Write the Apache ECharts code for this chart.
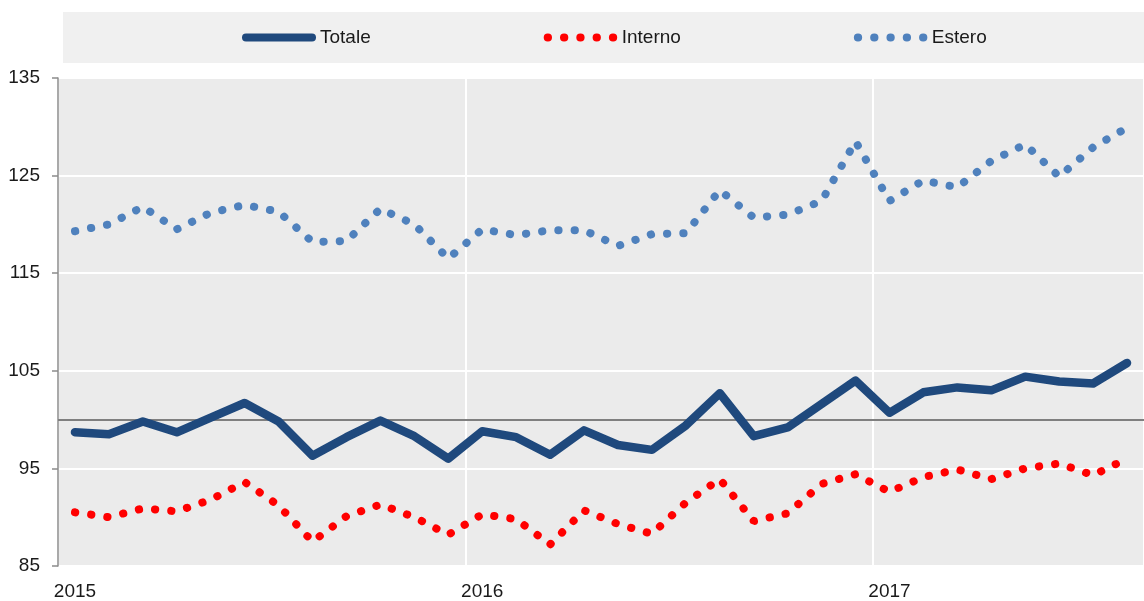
<!DOCTYPE html>
<html>
<head>
<meta charset="utf-8">
<script src="https://cdn.jsdelivr.net/npm/echarts@6/dist/echarts.min.js"></script>
<style>
  html, body { margin: 0; padding: 0; background: #fff; }
  #chartmain { width: 1144px; height: 601px; }
</style>
</head>
<body>
<div id="chartmain"></div>
<script>
// mesi gen 2015 - ago 2017
var mesi = [
    '2015-01', '2015-02', '2015-03', '2015-04', '2015-05', '2015-06', '2015-07', '2015-08', '2015-09', '2015-10', '2015-11', '2015-12',
    '2016-01', '2016-02', '2016-03', '2016-04', '2016-05', '2016-06', '2016-07', '2016-08', '2016-09', '2016-10', '2016-11', '2016-12',
    '2017-01', '2017-02', '2017-03', '2017-04', '2017-05', '2017-06', '2017-07', '2017-08'
];
var totale = [98.7, 98.5, 99.8, 98.7, 100.2, 101.7, 99.8, 96.3, 98.2, 99.9, 98.3, 96.0,
    98.8, 98.2, 96.4, 98.9, 97.4, 96.9, 99.4, 102.7, 98.3, 99.2, 101.6, 104.0,
    100.7, 102.8, 103.3, 103.0, 104.4, 103.9, 103.7, 105.8];
var interno = [90.5, 90.0, 90.9, 90.6, 91.8, 93.6, 91.2, 87.5, 90.1, 91.3, 90.0, 88.2,
    90.3, 89.8, 87.2, 90.7, 89.3, 88.3, 91.5, 93.9, 89.6, 90.4, 93.4, 94.4,
    92.6, 94.1, 94.9, 93.9, 95.0, 95.5, 94.3, 96.0];
var estero = [119.3, 120.0, 121.8, 119.5, 121.2, 122.0, 121.3, 118.2, 118.3, 121.6, 120.0, 116.5,
    119.5, 118.9, 119.4, 119.4, 117.8, 119.0, 119.1, 123.5, 120.7, 121.0, 122.4, 128.5,
    122.4, 124.5, 123.8, 126.5, 128.2, 124.9, 127.9, 129.9];
var yTicks = [85, 95, 105, 115, 125, 135];

var font = '"Liberation Sans Narrow", "Arial Narrow", "Liberation Sans", sans-serif';
var dots = [0.3, 16];

var option = {
    animation: false,
    textStyle: { fontFamily: font, color: '#1a1a1a' },
    graphic: [{
        type: 'rect',
        shape: { x: 63, y: 12, width: 1081, height: 51 },
        style: { fill: '#f0f0f0' },
        z: -1
    }],
    legend: {
        left: 237,
        top: 23,
        itemWidth: 66,
        itemHeight: 20,
        itemGap: 173,
        itemStyle: { opacity: 0 },
        textStyle: { fontFamily: font, fontSize: 19, color: '#1a1a1a', padding: [0, 0, 0, 3] },
        data: [
            { name: 'Totale', lineStyle: { width: 8 } },
            { name: 'Interno', lineStyle: { width: 8 } },
            { name: 'Estero', lineStyle: { width: 8 } }
        ]
    },
    grid: {
        left: 58,
        right: -12,
        top: 78,
        bottom: 34,
        show: true,
        backgroundColor: '#ebebeb',
        borderWidth: 0
    },
    xAxis: {
        type: 'category',
        data: mesi,
        boundaryGap: true,
        axisLine: { show: false },
        axisTick: { show: false },
        axisLabel: {
            interval: function (i) { return i % 12 === 0; },
            formatter: function (v) { return v.slice(0, 4); },
            fontSize: 19,
            color: '#1a1a1a',
            margin: 16
        },
        splitLine: {
            show: true,
            interval: function (i) { return i % 12 === 0; },
            lineStyle: { color: '#ffffff', width: 2 }
        }
    },
    yAxis: {
        type: 'value',
        min: yTicks[0],
        max: yTicks[yTicks.length - 1],
        interval: 10,
        axisLine: { show: true, lineStyle: { color: '#8c8c8c', width: 1.5 } },
        axisTick: { show: true, length: 6, lineStyle: { color: '#8c8c8c', width: 1.5 } },
        axisLabel: { fontSize: 19, color: '#1a1a1a', margin: 18 },
        splitLine: { show: true, lineStyle: { color: '#ffffff', width: 2 } }
    },
    series: [{
        name: 'Totale',
        type: 'line',
        data: totale,
        symbol: 'none',
        z: 5,
        lineStyle: { color: '#1f497d', width: 8.5, cap: 'round', join: 'round' },
        itemStyle: { color: '#1f497d' }
    }, {
        name: 'Interno',
        type: 'line',
        data: interno,
        symbol: 'none',
        z: 4,
        lineStyle: { color: '#ff0000', width: 8, type: dots, cap: 'round' },
        itemStyle: { color: '#ff0000' }
    }, {
        name: 'Estero',
        type: 'line',
        data: estero,
        symbol: 'none',
        z: 3,
        lineStyle: { color: '#4f81bd', width: 8, type: dots, cap: 'round' },
        itemStyle: { color: '#4f81bd' },
        markLine: {
            silent: true,
            symbol: 'none',
            label: { show: false },
            lineStyle: { color: '#7f7f7f', width: 2, type: 'solid' },
            data: [{ yAxis: 100 }]
        }
    }]
};
var myChart = echarts.init(document.getElementById('chartmain'));
myChart.setOption(option);
</script>
</body>
</html>
